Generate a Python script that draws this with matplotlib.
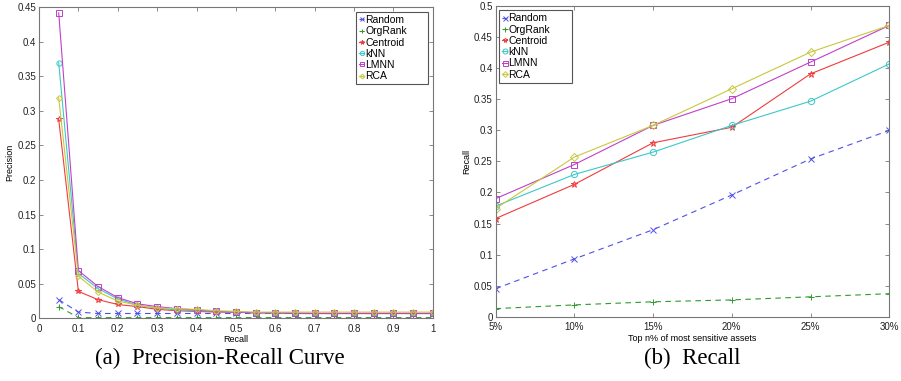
import numpy as np
import matplotlib.pyplot as plt

# courbe precision-rappel (a)
recall_pts = [0.05, 0.1, 0.15, 0.2, 0.25, 0.3, 0.35, 0.4, 0.45, 0.5,
              0.55, 0.6, 0.65, 0.7, 0.75, 0.8, 0.85, 0.9, 0.95, 1.0]
prec_random = [0.027, 0.009, 0.007, 0.007, 0.007, 0.007, 0.007, 0.007, 0.007, 0.007,
               0.007, 0.007, 0.007, 0.007, 0.007, 0.007, 0.007, 0.007, 0.007, 0.007]
prec_orgrank = [0.017, 0.001, 0.001, 0.001, 0.001, 0.001, 0.001, 0.001, 0.001, 0.001,
                0.001, 0.001, 0.001, 0.001, 0.001, 0.001, 0.001, 0.001, 0.001, 0.001]
prec_centroid = [0.288, 0.039, 0.027, 0.020, 0.017, 0.013, 0.011, 0.010, 0.009, 0.009,
                 0.008, 0.008, 0.007, 0.007, 0.007, 0.007, 0.007, 0.007, 0.007, 0.007]
prec_knn = [0.370, 0.065, 0.043, 0.028, 0.019, 0.015, 0.012, 0.011, 0.010, 0.009,
            0.008, 0.008, 0.008, 0.007, 0.007, 0.007, 0.007, 0.007, 0.007, 0.007]
prec_lmnn = [0.442, 0.069, 0.046, 0.030, 0.021, 0.017, 0.014, 0.012, 0.010, 0.009,
             0.008, 0.008, 0.007, 0.007, 0.007, 0.007, 0.007, 0.007, 0.007, 0.007]
prec_rca = [0.319, 0.061, 0.038, 0.025, 0.019, 0.015, 0.014, 0.013, 0.011, 0.010,
            0.009, 0.009, 0.009, 0.009, 0.009, 0.009, 0.009, 0.009, 0.009, 0.009]

# rappel selon top n% (b)
top_labels = ['5%', '10%', '15%', '20%', '25%', '30%']
rec_random = [0.045, 0.093, 0.140, 0.196, 0.254, 0.300]
rec_orgrank = [0.013, 0.019, 0.024, 0.027, 0.032, 0.037]
rec_centroid = [0.158, 0.213, 0.280, 0.305, 0.391, 0.442]
rec_knn = [0.178, 0.229, 0.265, 0.308, 0.347, 0.407]
rec_lmnn = [0.190, 0.245, 0.308, 0.351, 0.410, 0.469]
rec_rca = [0.174, 0.257, 0.308, 0.367, 0.426, 0.469]

names = ['Random', 'OrgRank', 'Centroid', 'kNN', 'LMNN', 'RCA']
colors = ['#5050e8', '#2e9a2e', '#f03c3c', '#3cc8c8', '#c040c8', '#c8c83c']
markers = ['x', '+', '*', 'o', 's', 'D']
styles = ['--', '--', '-', '-', '-', '-']

plt.rcParams['font.family'] = ['Liberation Sans', 'DejaVu Sans']
fig = plt.figure(figsize=(9.01, 3.81), dpi=100)
ax1 = fig.add_axes([0.0433, 0.1645, 0.437, 0.8165])
ax2 = fig.add_axes([0.550, 0.1688, 0.437, 0.815])

series_a = [prec_random, prec_orgrank, prec_centroid, prec_knn, prec_lmnn, prec_rca]
series_b = [rec_random, rec_orgrank, rec_centroid, rec_knn, rec_lmnn, rec_rca]
xb = np.arange(len(top_labels))


def marker_size(m, base):
    return base - 0.8 if m == 'D' else base


for ys, name, c, m, ls in zip(series_a, names, colors, markers, styles):
    ax1.plot(recall_pts, ys, ls, color=c, marker=m, ms=marker_size(m, 3.8), mfc='none',
             mew=0.7, lw=0.8, label=name, dashes=(5, 4) if ls == '--' else (None, None))
for ys, name, c, m, ls in zip(series_b, names, colors, markers, styles):
    ax2.plot(xb, ys, ls, color=c, marker=m, ms=marker_size(m, 4.5), mfc='none',
             mew=0.7, lw=0.8, label=name, dashes=(5, 4) if ls == '--' else (None, None))

ax1.set_xlim(0, 1)
ax1.set_ylim(0, 0.45)
ax1.set_xticks(np.arange(0, 1.01, 0.1))
ax1.set_xticklabels(['0', '0.1', '0.2', '0.3', '0.4', '0.5', '0.6', '0.7', '0.8', '0.9', '1'])
ax1.set_yticks(np.arange(0, 0.451, 0.05))
ax1.set_yticklabels(['0', '0.05', '0.1', '0.15', '0.2', '0.25', '0.3', '0.35', '0.4', '0.45'])
ax1.set_xlabel('Recall', fontsize=6.5, labelpad=1)
ax1.set_ylabel('Precision', fontsize=6.5, labelpad=2)

ax2.set_xlim(0, 5)
ax2.set_ylim(0, 0.5)
ax2.set_xticks(xb)
ax2.set_xticklabels(top_labels)
ax2.set_yticks(np.arange(0, 0.501, 0.05))
ax2.set_yticklabels(['0', '0.05', '0.1', '0.15', '0.2', '0.25', '0.3', '0.35', '0.4', '0.45', '0.5'])
ax2.set_xlabel('Top n% of most sensitive assets', fontsize=6.5, labelpad=1)
ax2.set_ylabel('Recall', fontsize=6.5, labelpad=2)

for ax in (ax1, ax2):
    ax.tick_params(direction='in', top=True, right=True, labelsize=7, length=3,
                   width=0.6, colors='#777777', labelcolor='#222222', pad=2)
    ax.tick_params(axis='x', pad=4)
    for s in ax.spines.values():
        s.set_color('#777777')
        s.set_linewidth(0.8)

# legendes facon matlab : boite plus large que le texte
leg_kw = dict(fontsize=7.5, handlelength=0.5, handletextpad=0.1, borderpad=0.3,
              labelspacing=0.12, fancybox=False, framealpha=1, borderaxespad=0,
              markerscale=0.8, loc='upper left', mode='expand')
l1 = ax1.legend(bbox_to_anchor=(0.805, 0.77, 0.183, 0.215), **leg_kw)
l2 = ax2.legend(bbox_to_anchor=(0.009, 0.77, 0.185, 0.217), **leg_kw)
for l in (l1, l2):
    l.get_frame().set_edgecolor('#555555')
    l.get_frame().set_linewidth(0.8)

fig.text(0.244, 0.058, '(a)  Precision-Recall Curve', fontsize=16.5, family='Liberation Serif',
         ha='center', va='center')
fig.text(0.768, 0.058, '(b)  Recall', fontsize=16.5, family='Liberation Serif',
         ha='center', va='center')

fig.savefig('out.png', dpi=100)
